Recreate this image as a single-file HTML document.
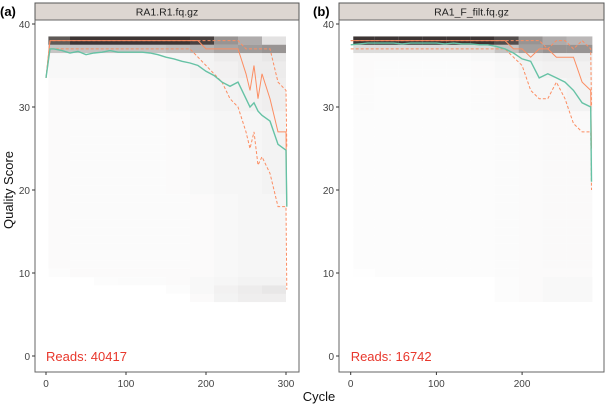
<!DOCTYPE html>
<html><head><meta charset="utf-8"><style>
html,body{margin:0;padding:0;background:#fff;}
svg{display:block;font-family:"Liberation Sans",sans-serif;}
</style></head><body>
<svg id="chart" width="605" height="406" viewBox="0 0 605 406" xmlns="http://www.w3.org/2000/svg">
<text x="0" y="16" font-size="13" font-weight="bold">(a)</text>
<text x="313" y="16" font-size="13" font-weight="bold">(b)</text>
<text transform="translate(13,190) rotate(-90)" text-anchor="middle" font-size="13" fill="#111">Quality Score</text>
<text x="319" y="401" text-anchor="middle" font-size="13" fill="#111">Cycle</text>
<g id="panels"></g>
</svg>
<script>
// ---- Panel A data (left) ----
const aTitle = "RA1.R1.fq.gz";
const aReads = "Reads:  40417";
const aCycles = [0,5,10,20,30,40,50,60,70,80,90,100,110,120,130,140,150,160,170,180,190,200,210,220,230,240,250,255,260,265,270,280,290,300,301];
const aMean = [33.5,37,37,36.8,36.5,36.7,36.3,36.5,36.6,36.8,36.6,36.6,36.6,36.6,36.5,36.3,36,35.8,35.5,35.3,35,34.3,33.8,33,32.5,33,31,30,30.5,29.5,29,28.3,25.5,24.8,18];
const aMedian = [33.5,38,38,38,38,38,38,38,38,38,38,38,38,38,38,38,38,38,38,38,38,37,37,37,37,37,34,32,35,31,34,31,27,27,18];
const aQ25 = [33.5,37,37,37,37,37,37,37,37,37,37,37,37,37,37,37,37,37,37,37,36,35,34,33,31,30,27,25,27,23,24,22,18,18,8];
const aQ75 = [33.5,38,38,38,38,38,38,38,38,38,38,38,38,38,38,38,38,38,38,38,38,38,38,38,38,38,37,37,37,37,37,37,33,32,25];
const aHeatBins = [0,30,60,90,120,150,180,210,240,270,300];
const aHeatRows = [
 [38,38,[.7,.85,.85,.85,.85,.85,.8,.45,.35,.12]],
 [37,37,[.25,.25,.25,.25,.25,.28,.32,.38,.42,.45]],
 [36,36,[.03,.03,.03,.03,.03,.04,.05,.08,.08,.1]],
 [34,35,[.03,.03,.03,.03,.03,.04,.05,.06,.08,.08]],
 [30,33,[.02,.02,.02,.02,.02,.03,.04,.05,.06,.07]],
 [20,29,[.02,.015,.015,.015,.015,.02,.03,.04,.04,.05]],
 [11,19,[.02,.015,.015,.015,.015,.015,.02,.03,.04,.04]],
 [10,10,[.01,.02,.02,.02,.02,.02,.02,.03,.04,.04]],
 [9,9,[0,0,.01,.015,.015,.02,.03,.04,.05,.05]],
 [8,8,[0,0,0,0,0,.01,.03,.06,.08,.1]],
 [7,7,[0,0,0,0,0,0,.02,.05,.07,.07]]
];
// ---- Panel B data (right) ----
const bTitle = "RA1_F_filt.fq.gz";
const bReads = "Reads:  16742";
const bCycles = [0,10,20,30,40,50,60,70,80,90,100,110,120,130,140,150,160,170,180,190,200,210,220,230,240,250,260,270,280,281];
const bMean = [37.5,37.6,37.7,37.7,37.7,37.7,37.6,37.7,37.7,37.7,37.7,37.6,37.7,37.6,37.6,37.5,37.5,37.3,37,36.5,35.8,35.5,33.5,34,33.5,33,32,30.5,30,21];
const bMedian = [38,38,38,38,38,38,38,38,38,38,38,38,38,38,38,38,38,38,38,37,37,36,37,37,36,36,36,33,32,25];
const bQ25 = [37,37,37,37,37,37,37,37,37,37,37,37,37,37,37,37,37,37,37,36,35,32,31,31,33,31,28,27,27,20];
const bQ75 = [38,38,38,38,38,38,38,38,38,38,38,38,38,38,38,38,38,38,38,38,38,38,38,37,38,38,37,38,37,30];
const bHeatBins = [0,28,56,84,112,140,168,196,224,252,282];
const bHeatRows = [
 [38,38,[.85,.85,.85,.85,.85,.85,.75,.45,.35,.3]],
 [37,37,[.15,.15,.15,.15,.15,.15,.25,.4,.45,.45]],
 [36,36,[.02,.02,.02,.02,.02,.03,.04,.07,.08,.08]],
 [34,35,[.02,.015,.015,.015,.015,.02,.03,.05,.06,.06]],
 [30,33,[.015,.01,.01,.01,.01,.015,.02,.04,.04,.05]],
 [11,29,[.01,.01,.01,.01,.01,.01,.015,.02,.025,.025]],
 [10,10,[.005,.01,.01,.01,.01,.01,.015,.02,.02,.02]],
 [7,9,[0,0,0,0,0,0,.01,.02,.03,.03]]
];

const NS="http://www.w3.org/2000/svg";
function mk(tag,attrs,parent){const e=document.createElementNS(NS,tag);for(const k in attrs)e.setAttribute(k,attrs[k]);parent.appendChild(e);return e;}
const yScale = q => 356 - q*8.3;
const root=document.getElementById('panels');

function panel(o){
  const g=mk('g',{},root);
  
  
  const xs=c=>o.x0+c*o.k;
  const st=mk('rect',{x:o.L,y:3,width:o.R-o.L,height:17,fill:'#ddd6d1',stroke:'#555','stroke-width':1},g);
  
  
  const tt=mk('text',{x:(o.L+o.R)/2,y:15.5,'text-anchor':'middle','font-size':10.5,fill:'#222'},g);
  tt.textContent=o.title;
  
  
  const hg=mk('g',{},g);
  
  
  o.rows.forEach(r=>{
    for(let q=r[0];q<=r[1];q++){
      r[2].forEach((v,i)=>{
        if(v<=0)return;
        const c0=Math.max(o.bins[i],3),c1=o.bins[i+1];
        const cell=mk('rect',{x:xs(c0),y:yScale(q+0.5),width:xs(c1)-xs(c0),height:8.3,fill:'#1a1210','fill-opacity':v},hg);
        
        
      });
    }
  });
  const line=(vals,col,dash,nm,w)=>{
    const d=vals.map((v,i)=>(i?'L':'M')+xs(o.cycles[i]).toFixed(1)+','+yScale(v).toFixed(1)).join('');
    const p=mk('path',{d:d,fill:'none',stroke:col,'stroke-width':w,'stroke-dasharray':dash||'none'},g);
    
    
  };
  line(o.q25,'#fc8d62','3,2','quartile-25-line',1);
  line(o.q75,'#fc8d62','3,2','quartile-75-line',1);
  line(o.median,'#fc8d62','','median-line',1);
  line(o.mean,'#66c2a5','','mean-line',1.4);
  const bd=mk('rect',{x:o.L,y:20,width:o.R-o.L,height:352,fill:'none',stroke:'#666','stroke-width':1},g);
  
  
  [0,10,20,30,40].forEach(t=>{
    const y=yScale(t);
    mk('line',{x1:o.L-3,x2:o.L,y1:y,y2:y,stroke:'#333'},g);
    const tx=mk('text',{x:o.L-5,y:y+4,'text-anchor':'end','font-size':10,fill:'#444'},g);
    tx.textContent=t;
    
    
  });
  o.xt.forEach(t=>{
    const x=xs(t);
    mk('line',{x1:x,x2:x,y1:372,y2:375,stroke:'#333'},g);
    const tx=mk('text',{x:x,y:387,'text-anchor':'middle','font-size':10,fill:'#444'},g);
    tx.textContent=t;
    
    
  });
  const rd=mk('text',{x:o.x0,y:361,'font-size':13,fill:'#e8372c'},g);
  rd.textContent=o.reads;
  
  
}
panel({name:'panel-a',L:35,R:299,x0:46,k:0.8,title:aTitle,reads:aReads,cycles:aCycles,mean:aMean,median:aMedian,q25:aQ25,q75:aQ75,bins:aHeatBins,rows:aHeatRows,xt:[0,100,200,300]});
panel({name:'panel-b',L:339,R:604,x0:350.7,k:0.857,title:bTitle,reads:bReads,cycles:bCycles,mean:bMean,median:bMedian,q25:bQ25,q75:bQ75,bins:bHeatBins,rows:bHeatRows,xt:[0,100,200]});
</script>
</body></html>
